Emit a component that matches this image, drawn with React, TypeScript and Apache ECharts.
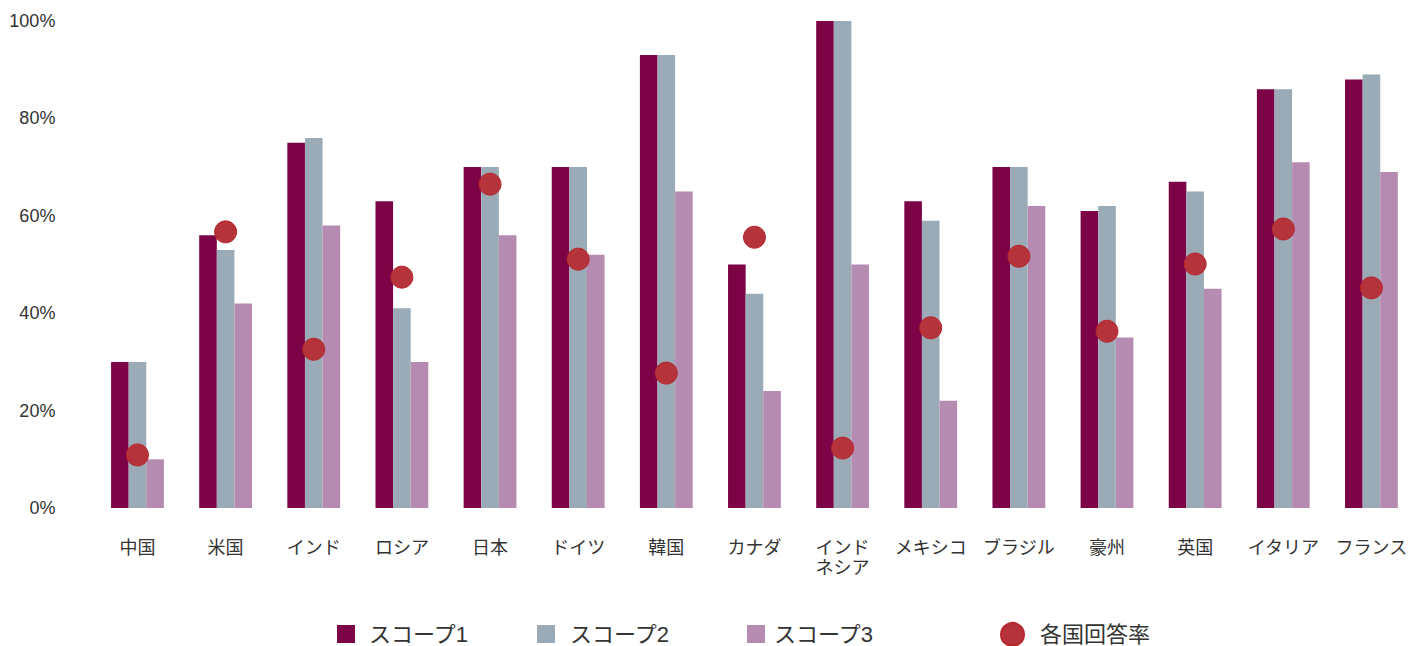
import React, { useEffect, useRef } from "react";
import * as echarts from "echarts";

const categories = ["中国", "米国", "インド", "ロシア", "日本", "ドイツ", "韓国", "カナダ", "インド\nネシア", "メキシコ", "ブラジル", "豪州", "英国", "イタリア", "フランス"];
const scope1 = [30, 56, 75, 63, 70, 70, 93, 50, 100, 63, 70, 61, 67, 86, 88];
const scope2 = [30, 53, 76, 41, 70, 70, 93, 44, 100, 59, 70, 62, 65, 86, 89];
const scope3 = [10, 42, 58, 30, 56, 52, 65, 24, 50, 22, 62, 35, 45, 71, 69];
const responseRate = [10.9, 56.7, 32.6, 47.4, 66.5, 51.1, 27.7, 55.6, 12.3, 37, 51.7, 36.3, 50.1, 57.3, 45.2];

const FONT = "'Liberation Sans', 'Noto Sans CJK JP', sans-serif";
const C1 = "#7c0346";
const C2 = "#9aaab6";
const C3 = "#b68bb1";
const CDOT = "#b5333a";

export default function App() {
  const ref = useRef<HTMLDivElement>(null);
  useEffect(() => {
    if (!ref.current) return;
    const chart = echarts.init(ref.current, null, { renderer: "svg" });
    const legendBase = {
      top: 623,
      itemWidth: 18,
      itemHeight: 18,
      padding: 0,
      selectedMode: false,
      textStyle: { fontSize: 22, color: "#333", fontFamily: FONT, lineHeight: 22 },
    };
    chart.setOption({
      animation: false,
      textStyle: { fontFamily: FONT },
      grid: { left: 93.4, right: 11.5, top: 21, bottom: 138, containLabel: false },
      legend: [
        { ...legendBase, left: 337, data: [{ name: "スコープ1", icon: "rect" }], textStyle: { ...legendBase.textStyle, padding: [0, 0, 0, 9] } },
        { ...legendBase, left: 537, data: [{ name: "スコープ2", icon: "rect" }], textStyle: { ...legendBase.textStyle, padding: [0, 0, 0, 10] } },
        { ...legendBase, left: 747, data: [{ name: "スコープ3", icon: "rect" }], textStyle: { ...legendBase.textStyle, padding: [0, 0, 0, 4] } },
        { ...legendBase, left: 1000, top: 622, itemWidth: 23, itemHeight: 23, data: [{ name: "各国回答率", icon: "circle" }], textStyle: { ...legendBase.textStyle, padding: [0, 0, 0, 11] } },
      ],
      xAxis: {
        type: "category",
        data: categories,
        axisLine: { show: false },
        axisTick: { show: false },
        axisLabel: { fontSize: 18, color: "#333", margin: 30, lineHeight: 20, interval: 0, fontFamily: FONT },
      },
      yAxis: {
        type: "value",
        min: 0,
        max: 100,
        interval: 20,
        axisLine: { show: false },
        axisTick: { show: false },
        splitLine: { show: false },
        axisLabel: { formatter: "{value}%", fontSize: 18, color: "#333", margin: 38, fontFamily: FONT },
      },
      series: [
        { name: "スコープ1", type: "bar", data: scope1, barWidth: 17.6, barGap: "0%", itemStyle: { color: C1 } },
        { name: "スコープ2", type: "bar", data: scope2, barWidth: 17.6, barGap: "0%", itemStyle: { color: C2 } },
        { name: "スコープ3", type: "bar", data: scope3, barWidth: 17.6, barGap: "0%", itemStyle: { color: C3 } },
        {
          name: "各国回答率",
          type: "scatter",
          data: responseRate,
          symbol: "circle",
          symbolSize: 22,
          itemStyle: { color: CDOT, borderColor: "#b8272e", borderWidth: 1, opacity: 1 },
          z: 5,
        },
      ],
    });
    return () => chart.dispose();
  }, []);
  return <div ref={ref} style={{ position: "fixed", left: 0, top: 0, width: 1427, height: 646, background: "#fff" }} />;
}
